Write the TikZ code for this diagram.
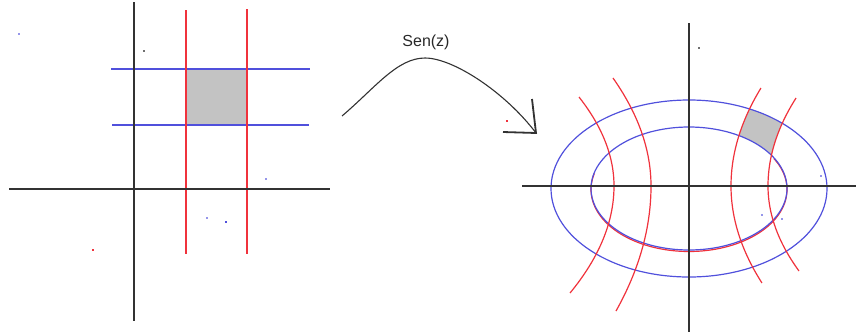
\documentclass[tikz,border=0pt]{standalone}
\usepackage{fontspec}
\setmainfont{Liberation Sans}
\definecolor{axisgray}{RGB}{50,50,50}
\definecolor{lblue}{RGB}{80,80,220}
\definecolor{lred}{RGB}{240,50,60}
\definecolor{shadegray}{RGB}{195,195,195}
\definecolor{textgray}{RGB}{40,40,40}
\begin{document}
\begin{tikzpicture}[x=1pt,y=-1pt,
  axis/.style={draw=axisgray,line width=1.5pt},
  bline/.style={draw=lblue,line width=1.2pt},
  rline/.style={draw=lred,line width=1.2pt},
  shadefill/.style={fill=shadegray},
  speck/.style={fill=#1,inner sep=0pt,minimum size=1.6pt,draw=none,rectangle}]
\useasboundingbox (0,0) rectangle (858,333);

% ---------- left figure ----------
\fill[shadefill] (186,69) rectangle (247,125);
\draw[bline] (111,69) -- (310,69);
\draw[bline] (112,125) -- (309,125);
\draw[rline] (186,10) -- (186,254);
\draw[rline] (247,9) -- (247,254);
\draw[axis] (9,189) -- (330,189);
\draw[axis] (134,2) -- (134,321);

% ---------- mapping arrow ----------
\coordinate (arrS) at (342,116);
\coordinate (arrT) at (425,58);
\coordinate (arrE) at (536,133);
\draw[draw=axisgray,line width=1.1pt] (arrS) .. controls (375,88) and (397,58) .. (arrT)
   .. controls (453,58) and (505,92) .. (arrE);
\draw[draw=axisgray,line width=1.8pt,line join=miter] (532,99) -- (arrE) -- (503,132);
\node[font=\fontsize{16}{18}\selectfont,text=textgray] (lbl) at (426,42) {Sen(z)};

% ---------- right figure ----------
\begin{scope}
  \clip (689,188.5) ellipse[x radius=138, y radius=88.5];
  \fill[shadefill] plot[domain=85:186,samples=40] ({731+0.312*((\x-186)/10)^2},\x)
     -- plot[domain=186:90,samples=40] ({768+0.362*((\x-186)/10)^2},\x) -- cycle;
\end{scope}
\fill[white] (689,188.5) ellipse[x radius=98, y radius=61.5];

\draw[bline] (689,188.5) ellipse[x radius=138, y radius=88.5];
\draw[rline] plot[domain=-30:195,samples=90] ({689+98*cos(\x)},{189.5+62*sin(\x)});
\draw[bline] (689,188.5) ellipse[x radius=98, y radius=61.5];

% red hyperbola-like curves
\draw[rline] plot[domain=97:186,samples=30] ({614-0.442*((\x-186)/10)^2},\x)
   -- plot[domain=186:293,samples=30] ({614-0.384*((\x-186)/10)^2},\x);
\draw[rline] plot[domain=78:186,samples=30] ({651-0.326*((\x-186)/10)^2},\x)
   -- plot[domain=186:311,samples=30] ({651-0.224*((\x-186)/10)^2},\x);
\draw[rline] plot[domain=88:186,samples=30] ({731+0.312*((\x-186)/10)^2},\x)
   -- plot[domain=186:283,samples=30] ({731+0.329*((\x-186)/10)^2},\x);
\draw[rline] plot[domain=98:186,samples=30] ({768+0.362*((\x-186)/10)^2},\x)
   -- plot[domain=186:271,samples=30] ({768+0.429*((\x-186)/10)^2},\x);

\draw[axis] (522,186) -- (856,186);
\draw[axis] (689,23) -- (689,332);

% ---------- stray specks ----------
\node[speck=lblue!60] (s1) at (19,34) {};
\node[speck=axisgray!70] (s2) at (144,51) {};
\node[speck=lblue!60] (s3) at (266,179) {};
\node[speck=lblue!60] (s4) at (207,218) {};
\node[speck=lblue] (s5) at (226,222) {};
\node[speck=lred] (s6) at (93,250) {};
\node[speck=lred] (s7) at (507,121) {};
\node[speck=axisgray!70] (s8) at (699,48) {};
\node[speck=lblue!60] (s9) at (821,176) {};
\node[speck=lblue!60] (s10) at (762,215) {};
\node[speck=lblue!60] (s11) at (782,219) {};
\end{tikzpicture}
\end{document}
